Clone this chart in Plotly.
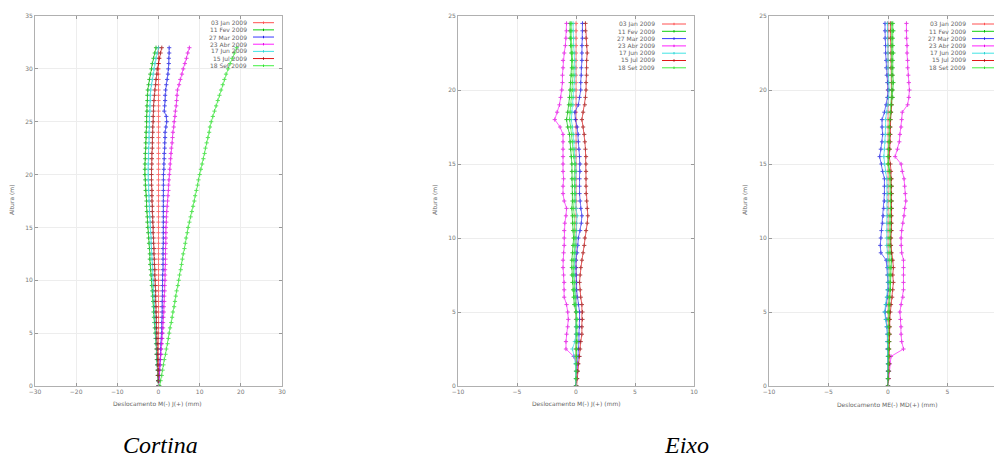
import plotly.graph_objects as go

W, H = 1002, 464
OFF = 8  # page body margin of the viewer, compensated in the pixel layout below

# ---------------- data ----------------
dates = ["03 Jan 2009", "11 Fev 2009", "27 Mar 2009", "23 Abr 2009",
         "17 Jun 2009", "15 Jul 2009", "18 Set 2009"]
colors = ["#ff5050", "#10d010", "#3838ff", "#ff20ff", "#40e4e4", "#e01818", "#40f040"]
marker_colors = ["#ff5050", "#00b000", "#2020e0", "#e010e0", "#30d0d0", "#a01010", "#30dd30"]

# Cortina: heights 0..32 m
h_cortina = [0.0, 0.5, 1.0, 1.5, 2.0, 2.5, 3.0, 3.5, 4.0, 4.5, 5.0, 5.5, 6.0, 6.5, 7.0, 7.5,
             8.0, 8.5, 9.0, 9.5, 10.0, 10.5, 11.0, 11.5, 12.0, 12.5, 13.0, 13.5, 14.0, 14.5,
             15.0, 15.5, 16.0, 16.5, 17.0, 17.5, 18.0, 18.5, 19.0, 19.5, 20.0, 20.5, 21.0,
             21.5, 22.0, 22.5, 23.0, 23.5, 24.0, 24.5, 25.0, 25.5, 26.0, 26.5, 27.0, 27.5,
             28.0, 28.5, 29.0, 29.5, 30.0, 30.5, 31.0, 31.5, 32.0]

c_jan = [0.0, 0.0, 0.0, 0.0, 0.0, 0.0, 0.0, 0.0, 0.0, 0.0, 0.0, 0.0, 0.0, 0.0, 0.0, 0.0,
         0.0, 0.0, 0.0, 0.0, 0.0, 0.0, 0.0, 0.0, 0.0, 0.0, 0.0, 0.0, 0.0, 0.0, 0.0, 0.0,
         0.0, 0.0, 0.0, 0.0, 0.0, 0.0, 0.0, 0.0, 0.0, 0.0, 0.0, 0.0, 0.0, 0.0, 0.0, 0.0,
         0.0, 0.0, 0.0, 0.0, 0.0, 0.0, 0.0, 0.0, 0.0, 0.0, 0.0, 0.0, 0.0, 0.0, 0.0, 0.0, 0.0]
c_fev = [0.0, -0.1, -0.2, -0.2, -0.3, -0.4, -0.5, -0.5, -0.6, -0.7, -0.8, -0.9, -1.0, -1.1,
         -1.2, -1.2, -1.3, -1.4, -1.5, -1.6, -1.7, -1.8, -1.9, -2.0, -2.1, -2.1, -2.2, -2.3,
         -2.4, -2.5, -2.6, -2.7, -2.7, -2.8, -2.9, -2.9, -3.0, -3.1, -3.2, -3.2, -3.3, -3.3,
         -3.3, -3.2, -3.2, -3.1, -3.1, -3.0, -3.0, -2.9, -2.9, -2.9, -2.8, -2.8, -2.7, -2.7,
         -2.6, -2.4, -2.2, -2.0, -1.7, -1.5, -1.2, -0.9, -0.6]
c_mar = [0.0, 0.1, 0.2, 0.2, 0.3, 0.4, 0.5, 0.5, 0.6, 0.7, 0.8, 0.8, 0.8, 0.9, 0.9, 0.9,
         0.9, 1.0, 1.0, 1.0, 1.0, 1.0, 1.1, 1.1, 1.1, 1.1, 1.1, 1.2, 1.2, 1.2, 1.2, 1.2,
         1.2, 1.2, 1.2, 1.2, 1.2, 1.2, 1.2, 1.2, 1.2, 1.3, 1.3, 1.4, 1.4, 1.5, 1.5, 1.6,
         1.6, 1.8, 2.0, 1.9, 1.4, 1.5, 1.6, 1.6, 1.7, 1.9, 2.1, 2.3, 2.4, 2.5, 2.5, 2.6, 2.6]
c_abr = [0.0, 0.1, 0.2, 0.3, 0.4, 0.5, 0.6, 0.7, 0.8, 0.9, 1.0, 1.1, 1.1, 1.2, 1.3, 1.3,
         1.4, 1.4, 1.5, 1.5, 1.6, 1.6, 1.6, 1.7, 1.7, 1.7, 1.7, 1.8, 1.8, 1.8, 1.8, 1.9,
         1.9, 2.0, 2.1, 2.2, 2.3, 2.4, 2.4, 2.5, 2.6, 2.7, 2.8, 2.9, 3.0, 3.1, 3.3, 3.4,
         3.5, 3.7, 3.8, 4.0, 4.1, 4.3, 4.4, 4.5, 4.6, 5.0, 5.3, 5.7, 6.0, 6.4, 6.8, 7.1, 7.5]
c_jun = [0.0, -0.1, -0.1, -0.2, -0.3, -0.3, -0.4, -0.4, -0.5, -0.6, -0.6, -0.7, -0.8, -0.8,
         -0.9, -1.0, -1.0, -1.1, -1.2, -1.2, -1.3, -1.4, -1.4, -1.5, -1.6, -1.6, -1.7, -1.8,
         -1.8, -1.9, -2.0, -2.0, -2.1, -2.2, -2.2, -2.3, -2.3, -2.4, -2.4, -2.5, -2.5, -2.5,
         -2.5, -2.4, -2.4, -2.4, -2.3, -2.3, -2.3, -2.2, -2.2, -2.2, -2.1, -2.1, -2.0, -2.0,
         -1.9, -1.7, -1.5, -1.3, -1.1, -0.9, -0.6, -0.3, 0.0]
c_jul = [0.0, -0.05, -0.1, -0.1, -0.2, -0.2, -0.3, -0.3, -0.3, -0.4, -0.4, -0.5, -0.5, -0.5,
         -0.6, -0.6, -0.7, -0.7, -0.7, -0.8, -0.8, -0.9, -0.9, -1.0, -1.0, -1.1, -1.1, -1.2,
         -1.2, -1.3, -1.3, -1.4, -1.4, -1.5, -1.5, -1.6, -1.6, -1.6, -1.7, -1.7, -1.7, -1.7,
         -1.6, -1.6, -1.6, -1.5, -1.5, -1.5, -1.4, -1.4, -1.3, -1.3, -1.2, -1.2, -1.1, -1.0,
         -0.9, -0.7, -0.6, -0.4, -0.3, 0.0, 0.2, 0.5, 0.8]
c_set = [0.3, 0.5, 0.8, 1.0, 1.2, 1.4, 1.7, 1.9, 2.2, 2.4, 2.6, 2.8, 3.1, 3.3, 3.5, 3.8,
         4.0, 4.2, 4.4, 4.7, 4.9, 5.1, 5.4, 5.6, 5.8, 6.0, 6.3, 6.5, 6.7, 7.0, 7.2, 7.5,
         7.8, 8.1, 8.4, 8.7, 8.9, 9.2, 9.5, 9.7, 10.0, 10.3, 10.6, 10.9, 11.2, 11.4, 11.7,
         12.0, 12.3, 12.5, 12.8, 13.2, 13.6, 14.0, 14.4, 14.8, 15.2, 15.6, 16.0, 16.4, 16.9,
         17.4, 17.9, 18.4, 19.0]

# Eixo: heights 0..24.5 m
h_eixo = [0.0, 0.5, 1.0, 1.5, 2.0, 2.5, 3.0, 3.5, 4.0, 4.5, 5.0, 5.5, 6.0, 6.5, 7.0, 7.5,
          8.0, 8.5, 9.0, 9.5, 10.0, 10.5, 11.0, 11.5, 12.0, 12.5, 13.0, 13.5, 14.0, 14.5,
          15.0, 15.5, 16.0, 16.5, 17.0, 17.5, 18.0, 18.5, 19.0, 19.5, 20.0, 20.5, 21.0,
          21.5, 22.0, 22.5, 23.0, 23.5, 24.0, 24.5]

# Eixo, M(-) J(+)
e1_jan = [0.0, 0.0, 0.0, 0.0, 0.0, 0.0, 0.0, 0.0, 0.0, 0.0, 0.0, 0.0, 0.0, 0.0, 0.0, 0.0,
          0.0, 0.0, 0.0, 0.0, 0.0, 0.0, 0.0, 0.0, 0.0, 0.0, 0.0, 0.0, 0.0, 0.0, 0.0, 0.0,
          0.0, 0.0, 0.0, 0.0, 0.0, 0.0, 0.0, 0.0, 0.0, 0.0, 0.0, 0.0, 0.0, 0.0, 0.0, 0.0,
          0.0, 0.0]
e1_fev = [0.0, 0.0, 0.05, 0.05, 0.05, 0.05, 0.05, 0.05, 0.05, 0.05, 0.0, -0.15, -0.2, -0.25,
          -0.3, -0.35, -0.35, -0.35, -0.3, -0.25, -0.2, -0.25, -0.3, -0.3, -0.35, -0.3, -0.3,
          -0.3, -0.35, -0.35, -0.35, -0.4, -0.45, -0.5, -0.55, -0.7, -0.8, -0.7, -0.6, -0.55,
          -0.5, -0.45, -0.4, -0.35, -0.35, -0.4, -0.45, -0.5, -0.5, -0.5]
e1_mar = [0.0, 0.05, 0.1, 0.15, 0.2, 0.2, 0.25, 0.25, 0.3, 0.3, 0.3, 0.2, 0.1, 0.05, 0.05,
          0.0, 0.0, 0.0, 0.1, 0.15, 0.2, 0.35, 0.45, 0.5, 0.4, 0.35, 0.3, 0.3, 0.3, 0.35,
          0.35, 0.3, 0.25, 0.2, 0.2, 0.1, -0.05, -0.1, 0.2, 0.3, 0.4, 0.4, 0.45, 0.45, 0.5,
          0.5, 0.5, 0.55, 0.55, 0.55]
e1_abr = [0.0, 0.05, 0.1, 0.1, -0.2, -0.85, -0.85, -0.8, -0.7, -0.65, -0.7, -0.8, -1.0,
          -1.0, -1.0, -1.05, -1.1, -1.1, -1.05, -1.0, -1.0, -1.0, -0.95, -0.85, -0.8, -1.0,
          -1.1, -1.1, -1.05, -1.1, -1.1, -1.1, -1.1, -1.1, -1.1, -1.35, -1.8, -1.6, -1.4,
          -1.3, -1.2, -1.15, -1.15, -1.1, -1.1, -1.0, -0.9, -0.85, -0.8, -0.8]
e1_jun = [0.0, 0.0, 0.0, -0.05, -0.15, -0.3, -0.1, 0.0, 0.0, 0.05, 0.05, 0.0, -0.05, -0.1,
          -0.1, -0.15, -0.15, -0.1, -0.05, 0.0, 0.0, 0.05, 0.05, 0.1, 0.0, -0.05, -0.05, -0.1,
          -0.05, 0.0, -0.05, -0.1, -0.1, -0.15, -0.2, -0.3, -0.4, -0.35, -0.25, -0.2, -0.15,
          -0.15, -0.1, -0.1, -0.1, -0.15, -0.2, -0.2, -0.25, -0.25]
e1_jul = [0.05, 0.1, 0.15, 0.2, 0.3, 0.35, 0.4, 0.5, 0.5, 0.55, 0.55, 0.5, 0.4, 0.35, 0.3,
          0.35, 0.4, 0.5, 0.6, 0.7, 0.75, 0.85, 0.95, 1.0, 0.95, 0.9, 0.85, 0.85, 0.85, 0.85,
          0.85, 0.85, 0.8, 0.75, 0.7, 0.6, 0.5, 0.6, 0.75, 0.8, 0.85, 0.85, 0.9, 0.9, 0.9,
          0.95, 0.9, 0.85, 0.8, 0.8]
e1_set = [0.0, 0.0, 0.05, 0.05, 0.05, 0.05, 0.1, 0.1, 0.1, 0.1, 0.05, -0.05, -0.1, -0.15,
          -0.15, -0.2, -0.2, -0.2, -0.15, -0.1, -0.1, -0.1, -0.15, -0.15, -0.2, -0.15, -0.1,
          -0.1, -0.15, -0.1, -0.1, -0.2, -0.25, -0.3, -0.35, -0.45, -0.55, -0.5, -0.4, -0.35,
          -0.3, -0.3, -0.25, -0.25, -0.3, -0.3, -0.35, -0.4, -0.4, -0.4]

# Eixo, ME(-) MD(+)
e2_jan = [0.0, 0.0, 0.0, 0.0, 0.0, 0.0, 0.0, 0.0, 0.0, 0.0, 0.0, 0.0, 0.0, 0.0, 0.0, 0.0,
          0.0, 0.0, 0.0, 0.0, 0.0, 0.0, 0.0, 0.0, 0.0, 0.0, 0.0, 0.0, 0.0, 0.0, 0.0, 0.0,
          0.0, 0.0, 0.0, 0.0, 0.0, 0.0, 0.0, 0.0, 0.0, 0.0, 0.0, 0.0, 0.0, 0.0, 0.0, 0.0,
          0.0, 0.0]
e2_fev = [0.0, 0.0, 0.05, 0.05, 0.05, 0.05, 0.1, 0.1, 0.1, 0.1, 0.1, 0.15, 0.15, 0.2, 0.2,
          0.25, 0.25, 0.3, 0.25, 0.2, 0.2, 0.25, 0.25, 0.25, 0.3, 0.3, 0.3, 0.3, 0.25, 0.15,
          0.05, 0.05, 0.1, 0.1, 0.15, 0.15, 0.2, 0.25, 0.3, 0.4, 0.4, 0.45, 0.4, 0.4, 0.4,
          0.45, 0.4, 0.4, 0.45, 0.4]
e2_mar = [0.0, 0.0, 0.0, 0.0, 0.0, -0.05, -0.05, -0.05, -0.1, -0.15, -0.25, -0.15, -0.05,
          0.0, 0.0, -0.05, -0.05, -0.15, -0.6, -0.65, -0.6, -0.55, -0.45, -0.4, -0.35, -0.3,
          -0.3, -0.3, -0.3, -0.45, -0.55, -0.7, -0.6, -0.5, -0.45, -0.5, -0.5, -0.3, -0.15,
          -0.05, 0.0, -0.05, -0.1, -0.15, -0.15, -0.2, -0.2, -0.25, -0.25, -0.25]
e2_abr = [0.0, 0.05, 0.1, 0.15, 0.25, 1.3, 1.15, 1.1, 1.1, 1.05, 1.0, 1.1, 1.25, 1.3, 1.3,
          1.3, 1.3, 1.3, 1.15, 1.1, 1.1, 1.15, 1.25, 1.35, 1.4, 1.5, 1.45, 1.4, 1.35, 1.2,
          1.1, 0.6, 0.8, 0.95, 1.0, 1.1, 1.15, 1.2, 1.65, 1.75, 1.8, 1.75, 1.7, 1.65, 1.65,
          1.6, 1.6, 1.55, 1.55, 1.55]
e2_jun = [0.0, 0.0, 0.0, 0.0, 0.0, 0.0, -0.05, -0.05, -0.1, -0.2, -0.3, -0.2, -0.1, -0.05,
          0.0, 0.0, 0.0, 0.0, -0.05, -0.1, -0.1, -0.1, -0.1, -0.05, -0.05, -0.05, -0.05,
          -0.05, -0.1, -0.2, -0.3, -0.35, -0.3, -0.25, -0.2, -0.2, -0.2, -0.1, 0.0, 0.05,
          0.1, 0.05, 0.05, 0.0, 0.0, 0.0, 0.0, -0.05, -0.05, -0.05]
e2_jul = [0.0, 0.05, 0.05, 0.1, 0.1, 0.1, 0.1, 0.15, 0.15, 0.15, 0.2, 0.25, 0.35, 0.4, 0.45,
          0.4, 0.45, 0.4, 0.3, 0.25, 0.25, 0.3, 0.3, 0.3, 0.3, 0.3, 0.3, 0.3, 0.3, 0.25, 0.2,
          0.1, 0.15, 0.2, 0.2, 0.2, 0.2, 0.25, 0.3, 0.3, 0.3, 0.3, 0.3, 0.25, 0.25, 0.25,
          0.25, 0.2, 0.2, 0.2]
e2_set = [0.0, 0.0, 0.05, 0.05, 0.05, 0.05, 0.05, 0.05, 0.05, 0.0, 0.0, 0.05, 0.1, 0.15,
          0.15, 0.15, 0.15, 0.15, 0.1, 0.1, 0.1, 0.15, 0.15, 0.15, 0.2, 0.2, 0.2, 0.2, 0.15,
          0.1, 0.0, 0.0, 0.05, 0.1, 0.1, 0.1, 0.15, 0.2, 0.25, 0.3, 0.3, 0.35, 0.3, 0.3, 0.3,
          0.35, 0.3, 0.3, 0.35, 0.3]

cortina_series = [c_jan, c_fev, c_mar, c_abr, c_jun, c_jul, c_set]
eixo1_series = [e1_jan, e1_fev, e1_mar, e1_abr, e1_jun, e1_jul, e1_set]
eixo2_series = [e2_jan, e2_fev, e2_mar, e2_abr, e2_jun, e2_jul, e2_set]

x_titles = ["Deslocamento M(-) J(+) (mm)", "Deslocamento M(-) J(+) (mm)",
            "Deslocamento ME(-) MD(+) (mm)"]
y_title = "Altura (m)"
captions = ["Cortina", "Eixo"]

# ---------------- layout geometry (screen pixels) ----------------
def px(x):
    return (x - OFF) / W

def py(y):
    return 1 - (y - OFF) / H

TOP, BOT = 16, 386
panels = [
    dict(x0=35, x1=282, xr=[-30, 30], xt=[-30, -20, -10, 0, 10, 20, 30],
         yr=[0, 35], yt=[0, 5, 10, 15, 20, 25, 30, 35], h=h_cortina, s=cortina_series,
         leg_text_x=249, leg_line=(253, 274), leg_y0=22.7, leg_dy=7.17, ytitle_x=12,
         xtitle_x=157),
    dict(x0=458, x1=694, xr=[-10, 10], xt=[-10, -5, 0, 5, 10],
         yr=[0, 25], yt=[0, 5, 10, 15, 20, 25], h=h_eixo, s=eixo1_series,
         leg_text_x=657, leg_line=(662, 686), leg_y0=24, leg_dy=7.3, ytitle_x=435,
         xtitle_x=576),
    dict(x0=769, x1=1007, xr=[-10, 10], xt=[-10, -5, 0, 5, 10],
         yr=[0, 25], yt=[0, 5, 10, 15, 20, 25], h=h_eixo, s=eixo2_series,
         leg_text_x=968, leg_line=(972, 997), leg_y0=24, leg_dy=7.3, ytitle_x=745,
         xtitle_x=887),
]

fig = go.Figure()
annotations = []
shapes = []
tickfont = dict(family="DejaVu Sans", size=6, color="#777777")
textfont = dict(family="DejaVu Sans", size=6, color="#666666")

for i, p in enumerate(panels):
    n = i + 1
    xa = "x" if n == 1 else f"x{n}"
    ya = "y" if n == 1 else f"y{n}"
    for k, (name, vals) in enumerate(zip(dates, p["s"])):
        fig.add_trace(go.Scatter(
            x=vals, y=p["h"], mode="lines+markers", name=name, showlegend=False,
            xaxis=xa, yaxis=ya, opacity=0.8,
            line=dict(color=colors[k], width=0.9 if k != 0 else 0.7),
            marker=dict(symbol="cross-thin", size=3,
                        line=dict(width=1, color=marker_colors[k]), color=marker_colors[k]),
        ))
    xaxis = dict(domain=[px(p["x0"]), min(1.0, px(p["x1"]))], range=p["xr"],
                 tickvals=p["xt"],
                 showgrid=True, gridcolor="#ededed", gridwidth=1, zeroline=False,
                 showline=True, linecolor="#b0b0b0", linewidth=1, mirror="ticks",
                 ticks="inside", ticklen=3, tickcolor="#999999", tickfont=tickfont,
                 anchor=ya, fixedrange=True, automargin=False)
    yaxis = dict(domain=[py(BOT), py(TOP)], range=p["yr"], tickvals=p["yt"],
                 showgrid=True, gridcolor="#ededed", gridwidth=1, zeroline=False,
                 showline=True, linecolor="#b0b0b0", linewidth=1, mirror="ticks",
                 ticks="inside", ticklen=3, tickcolor="#999999", tickfont=tickfont,
                 anchor=xa, fixedrange=True, automargin=False)
    fig.update_layout(**{("xaxis" if n == 1 else f"xaxis{n}"): xaxis,
                         ("yaxis" if n == 1 else f"yaxis{n}"): yaxis})

    # axis titles
    annotations.append(dict(text=x_titles[i], xref="paper", yref="paper",
                            x=px(p["xtitle_x"]), y=py(404), showarrow=False,
                            xanchor="center", yanchor="middle", font=textfont))
    annotations.append(dict(text=y_title, xref="paper", yref="paper",
                            x=px(p["ytitle_x"]), y=py(200), textangle=-90, showarrow=False,
                            xanchor="center", yanchor="middle", font=textfont))

    # key (text left, sample line right, as in gnuplot)
    for k, name in enumerate(dates):
        yy = p["leg_y0"] + k * p["leg_dy"]
        annotations.append(dict(text=name, xref="paper", yref="paper",
                                x=px(p["leg_text_x"]), y=py(yy), showarrow=False,
                                xanchor="right", yanchor="middle", font=textfont))
        l0, l1 = p["leg_line"]
        shapes.append(dict(type="line", xref="paper", yref="paper",
                           x0=px(l0), x1=px(l1), y0=py(yy), y1=py(yy),
                           line=dict(color=colors[k], width=1)))
        mid = (l0 + l1) / 2
        shapes.append(dict(type="line", xref="paper", yref="paper",
                           x0=px(mid), x1=px(mid), y0=py(yy - 1.2), y1=py(yy + 1.2),
                           line=dict(color=marker_colors[k], width=1)))

# captions
for text, cx in zip(captions, [160, 686]):
    annotations.append(dict(text=f"<i>{text}</i>", xref="paper", yref="paper",
                            x=px(cx), y=py(445), showarrow=False,
                            xanchor="center", yanchor="middle",
                            font=dict(family="Liberation Serif", size=24, color="#000000")))

fig.update_layout(width=W, height=H, autosize=False,
                  margin=dict(l=0, r=0, t=0, b=0, pad=0),
                  paper_bgcolor="white", plot_bgcolor="white", showlegend=False,
                  annotations=annotations, shapes=shapes)

fig.write_html("out.html")
